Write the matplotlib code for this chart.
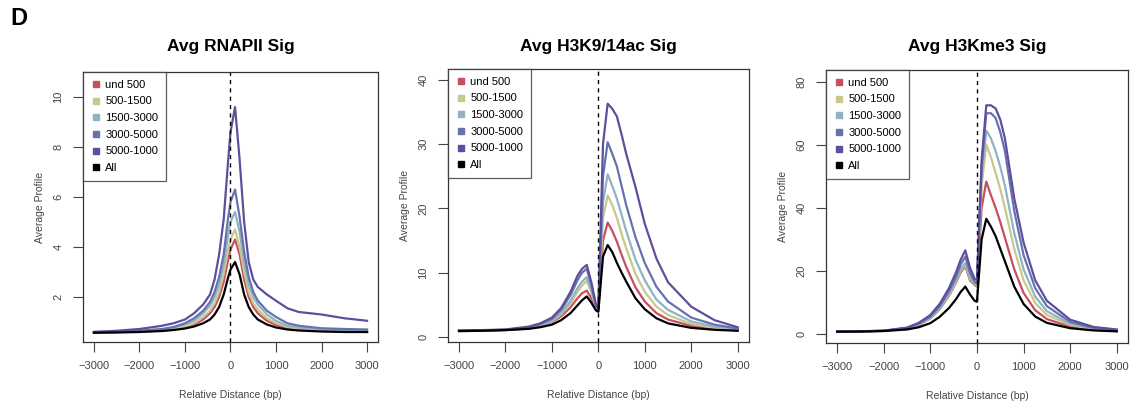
import matplotlib
matplotlib.use("Agg")
import matplotlib.pyplot as plt
from matplotlib.lines import Line2D

plt.rcParams['font.family'] = ['Liberation Sans', 'DejaVu Sans']

# bins (bp from TSS)
dist = [-3000, -2500, -2000, -1500, -1250, -1000, -800, -600, -450, -350, -250, -150, -50,
        0, 100, 200, 300, 400, 500, 600, 800, 1000, 1250, 1500, 2000, 2500, 3000]

groups = ['und 500', '500-1500', '1500-3000', '3000-5000', '5000-1000', 'All']
colors = ['#c8505e', '#c8c88c', '#8fb2c4', '#6672b0', '#5e4f9c', '#000000']

# RNAPII
pol2_und500 = [0.58, 0.6, 0.62, 0.66, 0.7, 0.78, 0.9, 1.1, 1.35, 1.6, 2.0, 2.6, 3.5,
               3.9, 4.3, 3.7, 2.7, 2.0, 1.6, 1.35, 1.05, 0.88, 0.76, 0.7, 0.65, 0.62, 0.6]
pol2_500_1500 = [0.58, 0.6, 0.62, 0.66, 0.72, 0.82, 0.95, 1.2, 1.45, 1.75, 2.2, 2.9, 3.9,
                 4.3, 4.7, 4.0, 3.0, 2.2, 1.75, 1.5, 1.15, 0.95, 0.8, 0.72, 0.66, 0.64, 0.62]
pol2_1500_3000 = [0.6, 0.62, 0.65, 0.7, 0.78, 0.9, 1.05, 1.35, 1.65, 2.0, 2.5, 3.3, 4.5,
                  5.0, 5.4, 4.6, 3.4, 2.5, 2.0, 1.7, 1.3, 1.05, 0.85, 0.78, 0.7, 0.68, 0.65]
pol2_3000_5000 = [0.6, 0.62, 0.65, 0.72, 0.8, 0.95, 1.15, 1.45, 1.8, 2.2, 2.8, 3.7, 5.2,
                  5.8, 6.3, 5.2, 3.8, 2.8, 2.2, 1.85, 1.45, 1.2, 0.95, 0.85, 0.75, 0.72, 0.7]
pol2_5000_1000 = [0.6, 0.65, 0.72, 0.85, 0.95, 1.1, 1.35, 1.7, 2.1, 2.7, 3.7, 5.1, 7.5,
                  8.6, 9.6, 7.5, 5.0, 3.4, 2.7, 2.4, 2.1, 1.85, 1.55, 1.4, 1.3, 1.15, 1.05]
pol2_all = [0.57, 0.58, 0.6, 0.64, 0.68, 0.74, 0.82, 0.95, 1.1, 1.3, 1.6, 2.1, 2.8,
            3.1, 3.4, 2.9, 2.1, 1.6, 1.3, 1.1, 0.9, 0.78, 0.7, 0.66, 0.62, 0.6, 0.6]

# H3K9/14ac
ac_und500 = [0.9, 0.95, 1.05, 1.3, 1.7, 2.3, 3.2, 4.6, 6.0, 6.8, 7.2, 6.0, 4.3,
             4.1, 15.0, 17.8, 16.5, 14.8, 12.8, 10.9, 7.7, 5.5, 3.7, 2.7, 1.7, 1.25, 1.0]
ac_500_1500 = [0.95, 1.0, 1.1, 1.35, 1.75, 2.4, 3.5, 5.2, 7.0, 8.0, 8.7, 6.9, 4.5,
               4.3, 18.5, 22.0, 20.5, 18.5, 16.0, 13.8, 9.8, 7.0, 4.7, 3.4, 2.0, 1.4, 1.1]
ac_1500_3000 = [0.95, 1.0, 1.1, 1.4, 1.8, 2.5, 3.7, 5.6, 7.6, 8.6, 9.3, 7.2, 4.6,
                4.3, 21.0, 25.3, 23.5, 21.5, 19.0, 16.5, 12.0, 8.8, 5.8, 4.2, 2.4, 1.6, 1.2]
ac_3000_5000 = [0.95, 1.0, 1.1, 1.5, 2.0, 2.8, 4.2, 6.5, 8.8, 10.0, 10.6, 8.0, 4.8,
                4.5, 25.0, 30.3, 28.5, 26.5, 23.5, 20.5, 15.5, 11.5, 7.8, 5.5, 3.0, 1.9, 1.3]
ac_5000_1000 = [1.0, 1.05, 1.15, 1.6, 2.1, 3.0, 4.5, 7.0, 9.5, 10.6, 11.2, 8.5, 5.0,
                4.5, 30.0, 36.3, 35.5, 34.3, 31.5, 28.5, 23.3, 17.6, 12.2, 8.5, 4.7, 2.6, 1.5]
ac_all = [0.9, 0.95, 1.05, 1.25, 1.5, 1.9, 2.6, 3.7, 4.9, 5.7, 6.3, 5.3, 4.1,
          3.9, 12.5, 14.3, 13.2, 11.5, 10.0, 8.6, 6.0, 4.3, 2.9, 2.1, 1.4, 1.1, 0.95]

# H3K4me3
me3_und500 = [0.7, 0.8, 0.95, 1.7, 2.8, 4.9, 7.8, 12.1, 16.2, 19.5, 21.5, 17.0, 15.5,
              15.0, 40.0, 48.3, 44.0, 40.0, 35.5, 30.5, 20.5, 13.0, 7.5, 4.7, 2.3, 1.3, 0.9]
me3_500_1500 = [0.7, 0.8, 0.95, 1.75, 2.9, 5.0, 8.0, 12.4, 16.5, 20.0, 22.0, 17.5, 15.8,
                15.3, 47.0, 60.0, 56.0, 51.0, 46.0, 40.0, 27.0, 17.0, 9.8, 6.0, 2.8, 1.5, 1.0]
me3_1500_3000 = [0.7, 0.8, 1.0, 1.8, 3.0, 5.2, 8.3, 12.8, 17.0, 20.5, 22.5, 18.0, 16.0,
                 15.5, 50.0, 64.5, 62.0, 58.0, 53.0, 47.0, 32.0, 20.5, 11.8, 7.2, 3.2, 1.7, 1.1]
me3_3000_5000 = [0.7, 0.8, 1.0, 1.9, 3.2, 5.5, 8.8, 13.5, 18.0, 22.0, 24.5, 19.5, 16.5,
                 16.0, 53.0, 70.0, 70.0, 68.5, 64.0, 58.0, 39.0, 25.0, 14.5, 8.8, 3.8, 1.9, 1.2]
me3_5000_1000 = [0.7, 0.8, 1.0, 2.0, 3.5, 6.0, 9.5, 14.5, 19.5, 23.5, 26.5, 21.0, 17.5,
                 17.0, 55.0, 72.5, 72.5, 71.5, 68.0, 62.0, 43.0, 29.0, 17.0, 10.5, 4.5, 2.2, 1.4]
me3_all = [0.7, 0.75, 0.9, 1.4, 2.1, 3.4, 5.4, 8.2, 11.0, 13.3, 15.0, 12.5, 10.5,
           10.2, 30.0, 36.5, 34.0, 31.0, 27.0, 23.0, 15.0, 9.5, 5.5, 3.5, 1.8, 1.1, 0.8]

panels = [
    ('Avg RNAPII Sig', [pol2_und500, pol2_500_1500, pol2_1500_3000, pol2_3000_5000, pol2_5000_1000, pol2_all],
     [2, 4, 6, 8, 10], (0.2, 11.0), [0.0734, 0.1597, 0.2608, 0.6634]),
    ('Avg H3K9/14ac Sig', [ac_und500, ac_500_1500, ac_1500_3000, ac_3000_5000, ac_5000_1000, ac_all],
     [0, 10, 20, 30, 40], (-0.8, 41.7), [0.396, 0.1597, 0.2661, 0.6708]),
    ('Avg H3Kme3 Sig', [me3_und500, me3_500_1500, me3_1500_3000, me3_3000_5000, me3_5000_1000, me3_all],
     [0, 20, 40, 60, 80], (-2.9, 83.7), [0.7303, 0.1572, 0.267, 0.6708]),
]

fig = plt.figure(figsize=(11.31, 4.07), dpi=100)
fig.text(0.009, 0.955, 'D', fontsize=17, fontweight='bold', va='center', ha='left')

for title, series, yt, ylim, pos in panels:
    ax = fig.add_axes(pos)
    for vals, c in zip(series, colors):
        ax.plot(dist, vals, color=c, lw=1.6)
    ax.axvline(0, color='black', ls=(0, (3, 3)), lw=1.0)
    ax.set_xlim(-3240, 3240)
    ax.set_ylim(*ylim)
    ax.set_xticks([-3000, -2000, -1000, 0, 1000, 2000, 3000])
    ax.set_yticks(yt)
    ax.set_yticklabels([str(v) for v in yt], rotation=90, va='center')
    ax.tick_params(direction='out', length=7, width=0.8, labelsize=8, colors='#444444', pad=7)
    for s in ax.spines.values():
        s.set_linewidth(0.9)
        s.set_color('#333333')
    fig.text(pos[0] + pos[2] / 2, 0.885, title, fontsize=12.5, fontweight='bold',
             ha='center', va='center')
    ax.set_xlabel('Relative Distance (bp)', fontsize=7.5, color='#444444', labelpad=13)
    ax.set_ylabel('Average Profile', fontsize=7.5, color='#444444', labelpad=6)
    handles = [Line2D([], [], marker='s', ls='none', color=c, markersize=4) for c in colors]
    leg = ax.legend(handles, groups, loc='upper left', fontsize=8, frameon=True, fancybox=False,
                    edgecolor='#333333', borderaxespad=0, handletextpad=0.3, handlelength=1.0,
                    labelspacing=0.6, borderpad=0.7)
    leg.get_frame().set_linewidth(0.9)

fig.savefig('out.png', dpi=100)
